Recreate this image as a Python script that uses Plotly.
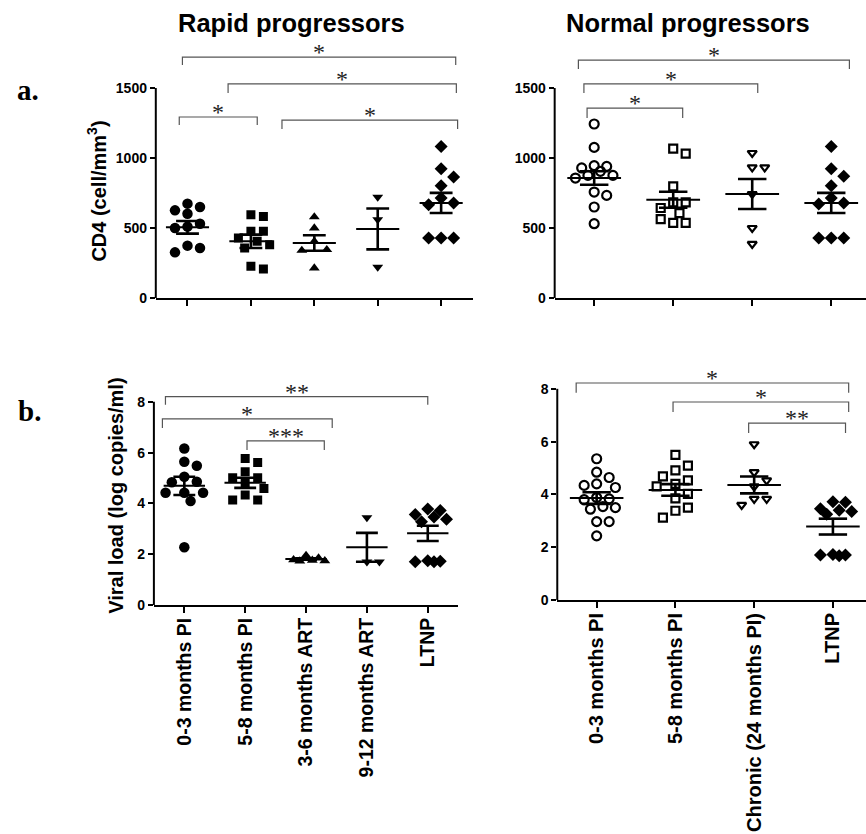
import plotly.graph_objects as go

# ---------------- data ----------------
rapid_cats = ["0-3 months PI", "5-8 months PI", "3-6 months ART", "9-12 months ART", "LTNP"]
normal_cats = ["0-3 months PI", "5-8 months PI", "Chronic (24 months PI)", "LTNP"]

rapid_cd4 = [
    [674, 650, 626, 602, 531, 510, 500, 374, 357, 326],
    [595, 583, 476, 476, 429, 405, 381, 357, 226, 207],
    [579, 500, 405, 345, 340, 214],
    [721, 560, 221],
    [1083, 924, 864, 802, 714, 679, 667, 429, 429, 429],
]
rapid_cd4_mean = [505, 405, 393, 493, 679]
rapid_cd4_sem = [45, 48, 55, 146, 72]

normal_cd4 = [
    [1243, 1076, 945, 940, 929, 905, 876, 876, 857, 757, 733, 650, 531],
    [1067, 1031, 798, 683, 683, 643, 607, 564, 536, 536],
    [1036, 933, 933, 743, 500, 386],
    [1083, 924, 869, 802, 714, 679, 671, 429, 429, 429],
]
normal_cd4_mean = [857, 702, 743, 679]
normal_cd4_sem = [48, 57, 107, 72]

rapid_vl = [
    [6.16, 5.64, 5.48, 5.05, 4.85, 4.83, 4.42, 4.42, 4.42, 4.09, 2.27],
    [5.77, 5.61, 5.25, 5.01, 5.01, 4.81, 4.59, 4.33, 4.13, 4.13],
    [1.95, 1.85, 1.78, 1.76, 1.74, 1.73],
    [3.44, 1.70, 1.70],
    [3.78, 3.72, 3.56, 3.46, 3.38, 3.28, 1.74, 1.72, 1.70, 1.70],
]
rapid_vl_mean = [4.69, 4.81, 1.81, 2.27, 2.82]
rapid_vl_sem = [0.36, 0.20, 0.03, 0.57, 0.30]

normal_vl = [
    [5.35, 4.84, 4.64, 4.40, 4.34, 4.26, 3.88, 3.83, 3.80, 3.54, 3.50, 3.44, 2.97, 2.97, 2.43],
    [5.50, 5.09, 4.91, 4.68, 4.53, 4.40, 4.30, 4.02, 3.85, 3.50, 3.38, 3.12],
    [5.90, 4.84, 4.53, 4.30, 3.83, 3.83, 3.60],
    [3.72, 3.70, 3.46, 3.40, 3.35, 3.25, 1.72, 1.70, 1.70, 1.68],
]
normal_vl_mean = [3.86, 4.17, 4.36, 2.78]
normal_vl_sem = [0.22, 0.22, 0.32, 0.30]

# significance brackets: group positions, level, leg bottom, label
rapid_cd4_br_x0 = [-0.08, 0.64, -0.13, 1.49]
rapid_cd4_br_x1 = [4.23, 4.24, 1.10, 4.26]
rapid_cd4_br_y = [1721, 1529, 1293, 1271]
rapid_cd4_br_leg = [1664, 1464, 1236, 1207]
rapid_cd4_br_txt = ["*", "*", "*", "*"]

normal_cd4_br_x0 = [-0.20, -0.13, -0.09]
normal_cd4_br_x1 = [3.23, 2.07, 1.12]
normal_cd4_br_y = [1700, 1529, 1357]
normal_cd4_br_leg = [1636, 1464, 1286]
normal_cd4_br_txt = ["*", "*", "*"]

rapid_vl_br_x0 = [-0.31, -0.36, 1.03]
rapid_vl_br_x1 = [4.00, 2.43, 2.30]
rapid_vl_br_y = [8.20, 7.33, 6.46]
rapid_vl_br_leg = [7.88, 6.97, 6.10]
rapid_vl_br_txt = ["**", "*", "***"]

normal_vl_br_x0 = [-0.26, 0.97, 1.93]
normal_vl_br_x1 = [3.20, 3.20, 3.16]
normal_vl_br_y = [8.22, 7.50, 6.70]
normal_vl_br_leg = [7.85, 7.12, 6.33]
normal_vl_br_txt = ["*", "*", "**"]

rapid_syms = ["circle", "square", "triangle-up", "triangle-down", "diamond"]
normal_syms = ["circle-open", "square-open", "triangle-down-open", "diamond"]
sym_size = {"circle": 10.5, "square": 9, "triangle-up": 9.5, "triangle-down": 9.5, "diamond": 10,
            "circle-open": 9, "square-open": 8, "triangle-down-open": 8}

# ---------------- layout helpers ----------------
W, H = 866, 834
FONT = "Liberation Sans, Arial, Helvetica, sans-serif"
SERIF = "Liberation Serif, Times New Roman, serif"


def swarm(values, py, px, step=12.5, mind=11.0):
    """simple beeswarm: returns x offsets (category units)"""
    placed = []
    offs = []
    for v in values:
        y = v * py

        def mindist(k):
            d = 1e9
            for (ox, oy) in placed:
                d = min(d, ((k * step - ox) ** 2 + (y - oy) ** 2) ** 0.5)
            return d
        chosen = None
        for k in [0, 1, -1]:
            if mindist(k) >= mind:
                chosen = k
                break
        if chosen is None:
            cands = [0, 0.5, -0.5, 1, -1, 1.5, -1.5]
            chosen = max(cands, key=mindist)
        placed.append((chosen * step, y))
        offs.append(chosen * step / px)
    return offs


panels = [
    dict(n="", cats=rapid_cats, vals=rapid_cd4, mean=rapid_cd4_mean, sem=rapid_cd4_sem, syms=rapid_syms,
         xdom=[0.1799, 0.5460], ydom=[0.6427, 0.9448], xr=[-0.5, 4.5], yr=[0, 1800],
         ytv=[0, 500, 1000, 1500], labels=False, tf=19.5,
         br=(rapid_cd4_br_x0, rapid_cd4_br_x1, rapid_cd4_br_y, rapid_cd4_br_leg, rapid_cd4_br_txt)),
    dict(n="2", cats=normal_cats, vals=normal_cd4, mean=normal_cd4_mean, sem=normal_cd4_sem, syms=normal_syms,
         xdom=[0.6405, 1.0], ydom=[0.6427, 0.9448], xr=[-0.5, 3.44], yr=[0, 1800],
         ytv=[0, 500, 1000, 1500], labels=False, tf=20,
         br=(normal_cd4_br_x0, normal_cd4_br_x1, normal_cd4_br_y, normal_cd4_br_leg, normal_cd4_br_txt)),
    dict(n="3", cats=rapid_cats, vals=rapid_vl, mean=rapid_vl_mean, sem=rapid_vl_sem, syms=rapid_syms,
         xdom=[0.1777, 0.5291], ydom=[0.2746, 0.5365], xr=[-0.5, 4.5], yr=[0, 8.6],
         ytv=[0, 2, 4, 6, 8], labels=True, tf=19.5,
         br=(rapid_vl_br_x0, rapid_vl_br_x1, rapid_vl_br_y, rapid_vl_br_leg, rapid_vl_br_txt)),
    dict(n="4", cats=normal_cats, vals=normal_vl, mean=normal_vl_mean, sem=normal_vl_sem, syms=normal_syms,
         xdom=[0.6435, 1.0], ydom=[0.2806, 0.5528], xr=[-0.5, 3.42], yr=[0, 8.6],
         ytv=[0, 2, 4, 6, 8], labels=True, tf=20,
         br=(normal_vl_br_x0, normal_vl_br_x1, normal_vl_br_y, normal_vl_br_leg, normal_vl_br_txt)),
]

fig = go.Figure()
shapes = []
annotations = []

for p in panels:
    xa, ya = "x" + p["n"], "y" + p["n"]
    px_per_cat = (p["xdom"][1] - p["xdom"][0]) * W / (p["xr"][1] - p["xr"][0])
    px_per_y = (p["ydom"][1] - p["ydom"][0]) * H / (p["yr"][1] - p["yr"][0])
    # points
    for i, (vals, sym) in enumerate(zip(p["vals"], p["syms"])):
        offs = swarm(vals, px_per_y, px_per_cat)
        is_open = sym.endswith("open")
        fig.add_trace(go.Scatter(
            x=[i + o for o in offs], y=vals, mode="markers", xaxis=xa, yaxis=ya,
            marker=dict(symbol=sym, size=sym_size[sym], color="black",
                        line=dict(color="black", width=2.2 if is_open else 0)),
            showlegend=False, hoverinfo="y"))
    # mean lines
    mx, my = [], []
    for i, m in enumerate(p["mean"]):
        mx += [i - 0.34, i + 0.34, None]
        my += [m, m, None]
    fig.add_trace(go.Scatter(x=mx, y=my, mode="lines", xaxis=xa, yaxis=ya,
                             line=dict(color="black", width=2), showlegend=False, hoverinfo="skip"))
    # SEM bars
    sx, sy = [], []
    for i, (m, s) in enumerate(zip(p["mean"], p["sem"])):
        sx += [i, i, None, i - 0.18, i + 0.18, None, i - 0.18, i + 0.18, None]
        sy += [m - s, m + s, None, m + s, m + s, None, m - s, m - s, None]
    fig.add_trace(go.Scatter(x=sx, y=sy, mode="lines", xaxis=xa, yaxis=ya,
                             line=dict(color="black", width=2.6), showlegend=False, hoverinfo="skip"))
    # y axis line (only up to the last tick)
    shapes.append(dict(type="line", xref=xa + " domain", yref=ya, x0=0, x1=0,
                       y0=p["ytv"][0], y1=p["ytv"][-1], line=dict(color="black", width=2)))
    # brackets
    bx0, bx1, by, bl, bt = p["br"]
    for x0, x1, y, leg, t in zip(bx0, bx1, by, bl, bt):
        shapes.append(dict(type="path", xref=xa, yref=ya,
                           path=f"M {x0},{leg} L {x0},{y} L {x1},{y} L {x1},{leg}",
                           line=dict(color="#555555", width=1.2)))
        annotations.append(dict(xref=xa, yref=ya, x=(x0 + x1) / 2, y=y, text=t, showarrow=False,
                                xanchor="center", yanchor="bottom", yshift=-10,
                                font=dict(family=SERIF, size=24, color="#222222")))
    fig.update_layout(**{
        ("xaxis" + p["n"]): dict(
            domain=p["xdom"], range=p["xr"], anchor=ya, showline=True, linewidth=2, linecolor="black",
            ticks="outside", ticklen=6, tickwidth=2, tickcolor="black",
            tickvals=list(range(len(p["cats"]))), ticktext=p["cats"], tickangle=-90,
            showticklabels=p["labels"], showgrid=False, zeroline=False, automargin=False,
            ticklabelstandoff=-3,
            tickfont=dict(family=FONT, size=p["tf"], color="black", weight="bold")),
        ("yaxis" + p["n"]): dict(
            domain=p["ydom"], range=p["yr"], anchor=xa, showline=False,
            ticks="outside", ticklen=5, tickwidth=2, tickcolor="black",
            tickvals=p["ytv"], showgrid=False, zeroline=False, automargin=False,
            tickfont=dict(family=FONT, size=14, color="black", weight="bold")),
    })

# titles and labels
annotations += [
    dict(xref="paper", yref="paper", x=291 / W, y=(H - 23) / H, text="Rapid progressors", showarrow=False,
         xanchor="center", yanchor="middle", font=dict(family=FONT, size=25.5, color="black", weight="bold")),
    dict(xref="paper", yref="paper", x=688 / W, y=(H - 23) / H, text="Normal progressors", showarrow=False,
         xanchor="center", yanchor="middle", font=dict(family=FONT, size=25.5, color="black", weight="bold")),
    dict(xref="paper", yref="paper", x=28 / W, y=(H - 90) / H, text="a.", showarrow=False,
         xanchor="center", yanchor="middle", font=dict(family=SERIF, size=29, color="black", weight="bold")),
    dict(xref="paper", yref="paper", x=30 / W, y=(H - 411) / H, text="b.", showarrow=False,
         xanchor="center", yanchor="middle", font=dict(family=SERIF, size=29, color="black", weight="bold")),
    dict(xref="paper", yref="y", x=97 / W, y=760, text="CD4 (cell/mm<sup>3</sup>)", showarrow=False,
         textangle=-90, xanchor="center", yanchor="middle",
         font=dict(family=FONT, size=20, color="black", weight="bold")),
    dict(xref="paper", yref="y3", x=116 / W, y=4.3, text="Viral load (log copies/ml)", showarrow=False,
         textangle=-90, xanchor="center", yanchor="middle",
         font=dict(family=FONT, size=20, color="black", weight="bold")),
]

fig.update_layout(width=W, height=H, margin=dict(l=0, r=0, t=0, b=0),
                  paper_bgcolor="white", plot_bgcolor="white", showlegend=False,
                  shapes=shapes, annotations=annotations)

fig.write_html("out.html", config={"displayModeBar": False},
               post_script="document.body.style.margin='0px';")
